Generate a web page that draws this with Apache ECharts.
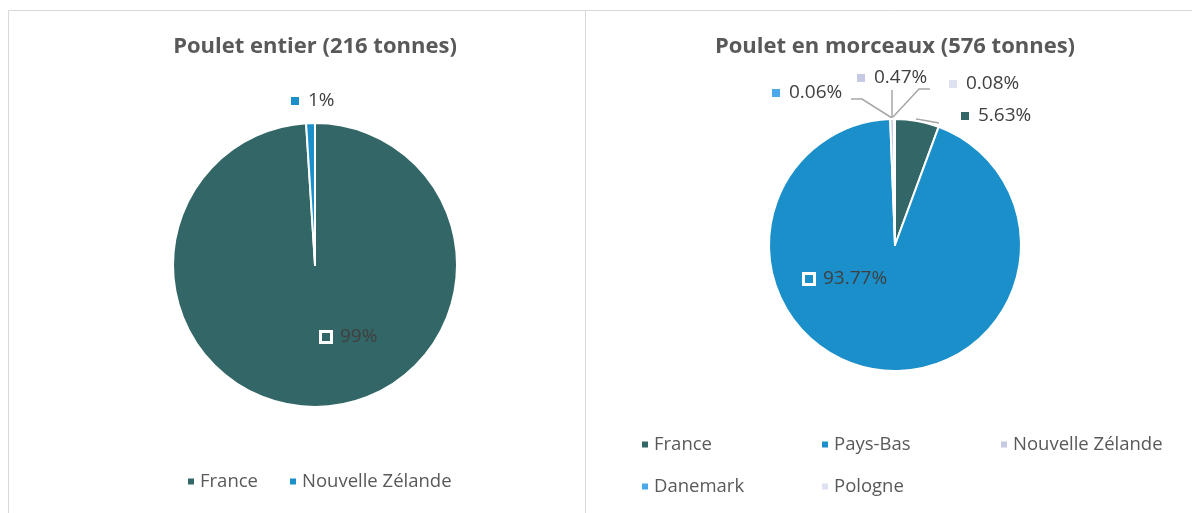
<!DOCTYPE html>
<html>
<head>
<meta charset="utf-8">
<title>Poulet</title>
<style>
  html, body { margin: 0; padding: 0; background: #fff; }
  #main { width: 1192px; height: 513px; }
</style>
</head>
<body>
<div id="main"></div>
<script src="https://cdn.jsdelivr.net/npm/echarts@6/dist/echarts.min.js"></script>
<script>
// données
var leftTitle = 'Poulet entier (216 tonnes)';
var leftNames = ['France', 'Nouvelle Zélande'];
var leftValues = [99, 1];
var leftColors = ['#336666', '#1a8fca'];

var rightTitle = 'Poulet en morceaux (576 tonnes)';
var rightNames = ['France', 'Pays-Bas', 'Nouvelle Zélande', 'Danemark', 'Pologne'];
var rightValues = [5.63, 93.77, 0.47, 0.06, 0.08];
var rightColors = ['#336666', '#1a8fca', '#c5c9e3', '#4aa8e8', '#dde1f2'];

// placement des étiquettes (marqueur gauche, milieu vertical)
var leftLabelPos = [[322, 337], [291, 101]];
var leftInside = [true, false];
var rightLabelPos = [[961, 116], [805, 279], [857, 78], [772, 93], [949, 84]];
var rightInside = [false, true, false, false, false];
var rightLines = [
  [[916, 119], [928, 121], [939, 123]],
  null,
  [[892, 118], [892, 104], [892, 90]],
  [[892, 118], [862, 99], [851, 99]],
  [[893, 117], [919, 89], [930, 89]]
];
// légende de droite : grille 3 colonnes
var rightLegendPos = [[640, 435], [820, 435], [999, 435], [640, 477], [820, 477]];

var myChart = echarts.init(document.getElementById('main'));

function makeData(names, values, colors, inside, decimals) {
  return names.map(function (n, i) {
    var txt = (decimals ? values[i].toFixed(decimals) : values[i]) + '%';
    var m = inside[i]
      ? { width: 8, height: 8, backgroundColor: colors[i], borderColor: '#fff', borderWidth: 3 }
      : { width: 8, height: 8, backgroundColor: colors[i] };
    return {
      name: n,
      value: values[i],
      itemStyle: { color: colors[i] },
      label: {
        formatter: '{m|}{t|' + txt + '}',
        rich: {
          m: m,
          t: { fontSize: 19, color: '#404040', fontFamily: 'Open Sans', padding: [0, 0, 0, inside[i] ? 10 : 9] }
        }
      },
      labelLine: { show: !inside[i] && names.length > 2 }
    };
  });
}

var legendText = { color: '#595959', fontSize: 18.5, fontFamily: 'Open Sans' };

var legends = [
  { left: 186, top: 472, padding: 0, icon: 'rect', itemWidth: 8, itemHeight: 8, itemGap: 30,
    textStyle: legendText,
    data: [{ name: 'France', itemStyle: { color: leftColors[0] } },
           { name: 'Nouvelle Zélande', itemStyle: { color: leftColors[1] } }] }
];
rightNames.forEach(function (n, i) {
  legends.push({
    left: rightLegendPos[i][0], top: rightLegendPos[i][1], padding: 0,
    icon: 'rect', itemWidth: 8, itemHeight: 8,
    textStyle: legendText,
    data: [{ name: n, itemStyle: { color: rightColors[i] } }]
  });
});

var option = {
  animation: false,
  title: [
    { text: leftTitle, left: 315, top: 36, textAlign: 'center', padding: 0,
      textStyle: { fontSize: 22, fontWeight: 'bold', color: '#595959', fontFamily: 'Open Sans' } },
    { text: rightTitle, left: 895, top: 36, textAlign: 'center', padding: 0,
      textStyle: { fontSize: 22, fontWeight: 'bold', color: '#595959', fontFamily: 'Open Sans' } }
  ],
  legend: legends,
  graphic: [
    { type: 'rect', shape: { x: 8.5, y: 10.5, width: 577, height: 520 },
      style: { fill: 'none', stroke: '#d9d9d9', lineWidth: 1 } },
    { type: 'rect', shape: { x: 585.5, y: 10.5, width: 620, height: 520 },
      style: { fill: 'none', stroke: '#d9d9d9', lineWidth: 1 } }
  ],
  series: [
    {
      type: 'pie',
      center: [315, 265],
      radius: 142,
      startAngle: 90,
      clockwise: true,
      avoidLabelOverlap: false,
      itemStyle: { borderColor: '#fff', borderWidth: 2 },
      label: { show: true, position: 'outside' },
      labelLine: { show: false },
      labelLayout: function (p) {
        var pos = leftLabelPos[p.dataIndex];
        return { x: pos[0], y: pos[1], align: 'left', verticalAlign: 'middle' };
      },
      data: makeData(leftNames, leftValues, leftColors, leftInside, 0)
    },
    {
      type: 'pie',
      center: [895, 245],
      radius: 126,
      startAngle: 90,
      clockwise: true,
      avoidLabelOverlap: false,
      itemStyle: { borderColor: '#fff', borderWidth: 2 },
      label: { show: true, position: 'outside' },
      labelLine: { show: true, length: 10, length2: 10, lineStyle: { color: '#a6a6a6', width: 1.5 } },
      labelLayout: function (p) {
        var pos = rightLabelPos[p.dataIndex];
        var r = { x: pos[0], y: pos[1], align: 'left', verticalAlign: 'middle' };
        if (rightLines[p.dataIndex]) r.labelLinePoints = rightLines[p.dataIndex];
        return r;
      },
      data: makeData(rightNames, rightValues, rightColors, rightInside, 2)
    }
  ]
};

myChart.setOption(option);
</script>
</body>
</html>
